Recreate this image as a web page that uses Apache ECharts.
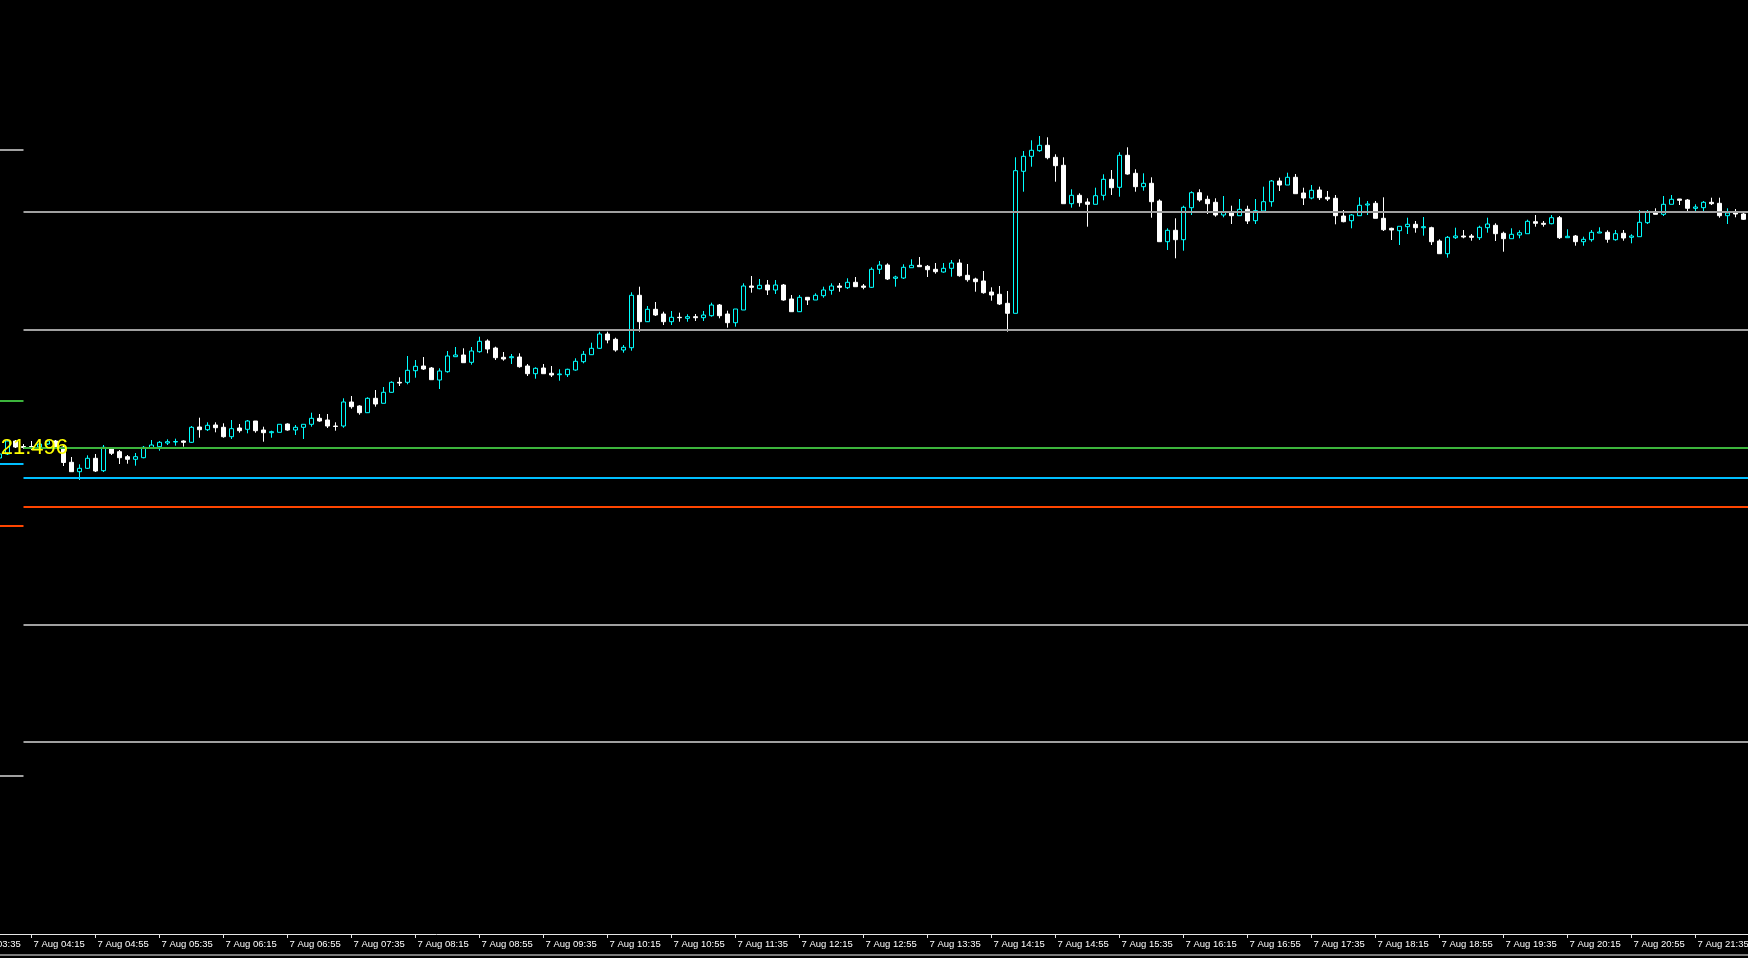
<!DOCTYPE html>
<html>
<head>
<meta charset="utf-8">
<script src="https://cdn.jsdelivr.net/npm/echarts@6.0.0/dist/echarts.min.js"></script>
<style>
html,body{margin:0;padding:0;background:#000;overflow:hidden;}
#chart{width:1748px;height:958px;}
</style>
</head>
<body>
<div id="chart"></div>
<script>
// 5-minute bars, 7 Aug, first category 03:35
const startMinutes = 3 * 60 + 35;
const categoryCount = 224;
const leadEmpty = 4; // bars 03:35..03:50 are off-screen
const dayLabel = '7 Aug ';

const open = [
542, 546, 559, 553.5, 553.5, 553, 556, 559, 553, 537.7,
528.3, 531.7, 541.7, 529.3, 552.3, 548.3, 543.3, 540.7, 542.3, 552.3,
553.3, 557, 558, 559, 557.7, 573, 570.3, 575, 572.7, 563.3,
572, 570.7, 579, 570, 567.3, 567.7, 576, 570, 572.7, 575.7,
581.7, 580, 574, 574, 598, 594, 587.3, 601.7, 596.7, 607.7,
617.7, 617.7, 629.3, 634, 632, 620, 628.3, 643.3, 645, 637.7,
648.3, 659, 652, 642.7, 642.3, 643, 634, 626.3, 632, 626.7,
625.3, 625.3, 630, 638.3, 645.3, 651.7, 666, 660.7, 650, 652.3,
704.7, 678.3, 690.7, 686, 678.3, 682.7, 681.7, 683.3, 682.3, 684.3,
695, 686, 677.3, 690, 714, 711.3, 715, 710, 715, 701,
688.3, 702.7, 700, 704.3, 709.7, 714, 712.3, 717.7, 714, 712.7,
730.7, 735, 721.7, 722, 732.3, 734.7, 733.7, 730.7, 728, 731.7,
737, 724.7, 721, 719, 708, 705.7, 696.7, 686.7, 828.7, 843.7,
849.3, 854.7, 842.7, 834.7, 796.3, 804.7, 798, 795.7, 804.7, 820.7,
812.7, 844.7, 826.7, 813.3, 816.7, 799, 758.3, 769.7, 760.3, 792.3,
807.3, 800.7, 797.7, 785, 787.7, 784.3, 790.7, 779.3, 789, 798.3,
819, 815, 822.7, 807, 802, 810, 802.7, 801.7, 784, 779.3,
784.3, 795, 796.7, 781.7, 771.7, 769.3, 773.3, 775.7, 772.3, 772.3,
759, 746.3, 762.3, 764, 764, 762.3, 772.3, 774.7, 766.7, 761.3,
765, 766.3, 778.3, 776.7, 776.3, 782.3, 762.3, 764, 758.3, 760.3,
767, 767.7, 760.3, 766.7, 762.7, 763.3, 777.3, 788.3, 785.7, 795.7,
801, 800, 791.7, 792.3, 797.7, 796.7, 784.3, 787.3, 786
];
const close = [
546, 559, 553, 552.5, 552.5, 556, 559, 553, 537.5, 528.3,
531.7, 541.7, 529, 552.7, 546.7, 542.3, 540.7, 543.3, 552.7, 555,
557.7, 558.3, 558.5, 557.7, 572.7, 570.3, 574.7, 572.3, 563.3, 571.3,
569.3, 579, 569.3, 567.3, 568.3, 575.7, 570, 572.7, 575.7, 581.7,
579, 574, 573.5, 598, 593.3, 587.3, 601.7, 596, 607.7, 617.7,
617, 629.7, 633.7, 631, 620.3, 629, 644, 645, 637.3, 649,
658.7, 651, 642.3, 641, 643.3, 633.3, 626.3, 631.7, 626.3, 625,
626, 630.7, 638.7, 645.7, 651.7, 666, 660, 650, 652.7, 704.7,
678.3, 690.7, 685, 678.3, 682.7, 682.3, 683.3, 682.3, 685, 695,
684.3, 677.3, 691, 714, 712.7, 714.7, 710, 715, 700, 688.3,
702.7, 700, 704.7, 710, 714, 712.7, 717.7, 713.3, 712.7, 730.7,
735, 721, 723, 732.7, 734.7, 733.3, 730.3, 728.3, 731.7, 737,
724.3, 720.3, 718.3, 707.3, 705, 696, 686.7, 829.3, 843.7, 849.7,
854.7, 842.3, 834.3, 796.3, 804.7, 797.3, 795.7, 804.3, 820.7, 812.3,
844.7, 826, 813.3, 816.7, 798.3, 758.3, 769.7, 760.3, 792.7, 807.3,
800, 796.3, 785, 787.7, 784.3, 790.7, 779, 789.3, 798.3, 819,
815, 822.7, 806.3, 802, 809.7, 802.3, 801, 784.3, 778.3, 785,
794.7, 796, 781.7, 770.3, 770, 773.7, 775.7, 772.3, 773.3, 758.3,
746.3, 762.7, 764, 763, 762.7, 772.7, 776, 766.3, 761.3, 765.7,
767.3, 778.7, 776.7, 775.7, 782.3, 762.3, 763.7, 758.3, 760.7, 767.7,
768, 760.7, 766.3, 762, 764, 777.7, 788.3, 785.7, 795.7, 800.7,
799.7, 791.7, 793, 797.7, 796.3, 784.3, 787, 786, 780.7
];
const low = [
540, 545, 552, 551, 550, 552, 555, 552, 534, 528,
520, 531, 528, 528, 545, 536, 536.3, 534.3, 541.7, 551.7,
549.3, 555, 554.3, 553.3, 557, 562.3, 569, 567.7, 562.3, 561,
567.3, 566.7, 567.3, 558.3, 562.3, 567.7, 569.3, 565, 561, 573.3,
578.3, 572, 569.3, 572.3, 591.3, 585.3, 587, 593.3, 596.7, 607.3,
614, 615.7, 622.3, 630, 620.3, 611, 627.3, 643.3, 637.3, 635.3,
647.3, 646.7, 640, 639.3, 636, 632.3, 624, 621.3, 626.3, 623,
619.3, 623, 629.3, 636.7, 645, 651, 656.7, 648.3, 647.3, 649.3,
668.3, 678, 684, 675, 675, 678.3, 678.3, 679, 679, 683.3,
681.7, 672.3, 673.3, 690, 707.3, 710.7, 705, 706, 699.3, 688,
688, 695, 700, 702.3, 705.3, 708.3, 711, 713.3, 710.7, 712,
726, 720, 713.3, 721, 732.3, 733.3, 723, 726.3, 727.3, 723.3,
723.3, 718.3, 708.3, 706.3, 699.3, 695, 668.3, 686.7, 808.3, 833.3,
848.3, 840.7, 818.3, 796.3, 792.3, 793.3, 773.3, 795.7, 799.7, 805,
803.3, 825.3, 808.3, 809.3, 782.3, 758.3, 750, 741.7, 749.3, 785,
798.3, 786, 783.3, 782.7, 776, 784.3, 776, 776, 787.7, 793.3,
809, 815, 806.3, 795, 800.7, 800, 799, 775.7, 777.7, 771.7,
784.3, 785, 781.7, 769, 760, 755, 766, 767.3, 764.3, 755,
746.3, 742.3, 761, 761.7, 759.3, 760, 767.3, 759, 748.3, 761.3,
761.7, 766.3, 773.3, 773.3, 775.7, 761, 762.3, 754.3, 754.3, 758.3,
767, 757.3, 759.3, 759.3, 756.7, 763.3, 776, 785.7, 784, 795.7,
795, 789, 787.3, 788.3, 795, 782.3, 776, 782.7, 780
];
const high = [
548, 561, 560, 556, 559, 559, 560, 560, 555, 543,
535.7, 544.7, 546, 555, 552.3, 550, 545, 547, 554, 560,
559, 560.7, 561.3, 559.7, 574, 582.3, 577.7, 577.7, 576.7, 580,
576, 580, 579, 573.3, 569.3, 575.7, 576.7, 575, 575.7, 587.3,
586, 586, 577.7, 601.7, 604, 594.7, 602.7, 610, 613, 618.7,
622.7, 644, 640, 643, 633, 631.7, 649, 653, 651.7, 653,
663.3, 660.7, 653.3, 648, 646, 646.7, 636, 632.7, 636, 634,
630.7, 631.3, 641.7, 649, 657.3, 668.3, 668.3, 662.3, 655, 707.7,
713.3, 694, 698, 688.3, 689, 687.3, 685.7, 686, 689, 697.3,
696, 689.3, 691, 716.7, 724, 721, 720, 720, 716, 705,
705, 702.7, 706.7, 713.3, 716.7, 717, 721.7, 723, 716, 732.7,
739, 736.7, 724.3, 735.7, 740.7, 743, 735, 737, 737, 740,
740.7, 736, 722.3, 729, 712.7, 714, 709, 842.7, 849, 859.7,
864, 862.7, 845.7, 842.7, 810.7, 806.7, 801.7, 812.3, 825.7, 830,
847.7, 852.7, 830.7, 826.7, 822.7, 800.7, 771.7, 781.7, 794.3, 808.7,
810.7, 804.3, 801.7, 804, 794.3, 801, 794.3, 801, 813.3, 820,
822.3, 827.3, 826, 812.3, 815, 813.3, 809, 805, 790, 786,
802.7, 799, 799, 802.7, 772.3, 773.7, 782.3, 779, 783, 773.3,
760.7, 764, 772.3, 770, 766, 774.3, 782.3, 776.7, 768.3, 771.7,
769.7, 780.3, 785, 779, 785, 784, 770.7, 765, 763.3, 770,
772.7, 769.7, 770, 770, 765.7, 790, 790, 791.7, 804, 805,
801, 801, 795.7, 799, 802.3, 802.3, 791.7, 791, 789
];

// Horizontal levels: current session (from 04:10) and earlier levels (before 04:10)
const levelsCurrent = [
  { value: 788, color: '#a0a0a0' },
  { value: 670, color: '#a0a0a0' },
  { value: 552, color: '#3cb43c' },
  { value: 522, color: '#00bfff' },
  { value: 493, color: '#ff4500' },
  { value: 375, color: '#a0a0a0' },
  { value: 258, color: '#a0a0a0' }
];
const levelsPrevious = [
  { value: 850, color: '#a0a0a0' },
  { value: 599, color: '#3cb43c' },
  { value: 536, color: '#00bfff' },
  { value: 474, color: '#ff4500' },
  { value: 224, color: '#a0a0a0' }
];
const priceText = ':21.496';

const categories = [];
for (let k = 0; k < categoryCount; k++) {
  const t = startMinutes + 5 * k;
  const hh = String(Math.floor(t / 60)).padStart(2, '0');
  const mm = String(t % 60).padStart(2, '0');
  categories.push(hh + ':' + mm);
}

const candleData = open.map((o, i) => [categories[i + leadEmpty], o, close[i], low[i], high[i]]);

const sessionStart = categories[leadEmpty + 3];
const markLines = [];
levelsCurrent.forEach(l => {
  markLines.push([
    { coord: [sessionStart, l.value], lineStyle: { color: l.color, width: 2, type: 'solid' } },
    { coord: [categories[categoryCount - 1], l.value] }
  ]);
});
levelsPrevious.forEach(l => {
  markLines.push([
    { coord: [categories[leadEmpty - 1], l.value], lineStyle: { color: l.color, width: 2, type: 'solid' } },
    { coord: [sessionStart, l.value] }
  ]);
});

const chart = echarts.init(document.getElementById('chart'), null, { renderer: 'canvas' });
const every8 = (idx) => idx % 8 === 0;
chart.setOption({
  backgroundColor: '#000000',
  animation: false,
  grid: { left: -36.5, right: -7.5, top: 0, bottom: 24, containLabel: false, outerBoundsMode: 'none' },
  xAxis: {
    type: 'category',
    data: categories,
    boundaryGap: true,
    axisLine: { show: true, lineStyle: { color: '#e6e6e6', width: 1 } },
    axisTick: { show: true, alignWithLabel: true, interval: every8, length: 4, lineStyle: { color: '#e6e6e6' } },
    axisLabel: {
      show: true,
      interval: every8,
      color: '#ffffff',
      fontFamily: 'Liberation Sans',
      fontSize: 9.5,
      align: 'left',
      margin: 5,
      padding: [0, 0, 0, 2],
      formatter: v => dayLabel + v
    },
    splitLine: { show: false }
  },
  yAxis: {
    type: 'value',
    min: 66,
    max: 1000,
    show: false,
    splitLine: { show: false }
  },
  series: [{
    type: 'candlestick',
    data: candleData,
    encode: { x: 0, y: [1, 2, 3, 4] },
    barWidth: 4,
    itemStyle: {
      color: '#000000',
      borderColor: '#00ffff',
      color0: '#ffffff',
      borderColor0: '#ffffff',
      borderWidth: 1
    },
    markLine: {
      silent: true,
      symbol: ['none', 'none'],
      label: { show: false },
      animation: false,
      data: markLines
    }
  }],
  graphic: [
    {
      type: 'text',
      z: 100,
      style: {
        text: priceText,
        x: 68,
        y: 448,
        fill: '#ffff00',
        fontSize: 22,
        fontFamily: 'Liberation Sans',
        align: 'right',
        verticalAlign: 'middle'
      }
    },
    {
      type: 'rect',
      z: 100,
      shape: { x: 0, y: 954, width: 1748, height: 2 },
      style: { fill: '#7a7a7a' }
    }
  ]
});
</script>
</body>
</html>
